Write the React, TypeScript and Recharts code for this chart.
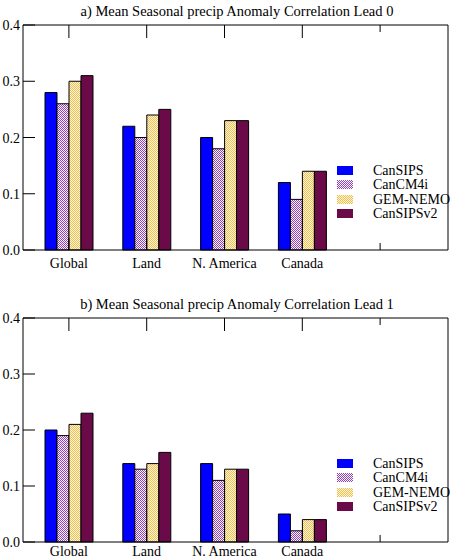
import React from "react";
import { Bar, BarChart, Legend, XAxis, YAxis } from "recharts";

const regions = ["Global", "Land", "N. America", "Canada", ""];
const models = ["CanSIPS", "CanCM4i", "GEM-NEMO", "CanSIPSv2"];
const yTicks = [0, 0.1, 0.2, 0.3, 0.4];

// lead 0, one list per model (Global, Land, N. America, Canada)
const lead0CanSIPS = [0.28, 0.22, 0.2, 0.12];
const lead0CanCM4i = [0.26, 0.2, 0.18, 0.09];
const lead0GemNemo = [0.3, 0.24, 0.23, 0.14];
const lead0CanSIPSv2 = [0.31, 0.25, 0.23, 0.14];

// lead 1
const lead1CanSIPS = [0.2, 0.14, 0.14, 0.05];
const lead1CanCM4i = [0.19, 0.13, 0.11, 0.02];
const lead1GemNemo = [0.21, 0.14, 0.13, 0.04];
const lead1CanSIPSv2 = [0.23, 0.16, 0.13, 0.04];

const FONT = '"Liberation Serif", "Times New Roman", serif';

// [solid colour, checker colour] per model; null checker = solid fill
const looks: [string, string | null][] = [
  ["#0000ff", null],
  ["#ffffff", "#9a3cc0"],
  ["#fff6d8", "#eebf55"],
  ["#6a0a48", null],
];

const legendRowHeights = [14, 15, 14, 14];

function Checker({ id, bg, fg }: { id: string; bg: string; fg: string }) {
  return (
    <pattern id={id} width={2} height={2} patternUnits="userSpaceOnUse">
      <rect width={2} height={2} fill={bg} />
      <rect width={1} height={1} fill={fg} />
      <rect x={1} y={1} width={1} height={1} fill={fg} />
    </pattern>
  );
}

function buildRows(series: number[][]) {
  return regions.map((name, i) => {
    const row: Record<string, string | number | undefined> = { name };
    models.forEach((m, k) => {
      row[m] = i < series[k].length ? series[k][i] : undefined;
    });
    return row;
  });
}

const LeftTick = (props: any) => {
  const { x, y, payload } = props;
  return (
    <g>
      <line x1={x} x2={x + 12} y1={y} y2={y} stroke="#000" />
      <text x={x - 3} y={y} dy={5} textAnchor="end" fontSize={14} fontFamily={FONT} fill="#000">
        {payload.value.toFixed(1)}
      </text>
    </g>
  );
};

const RightTick = (props: any) => {
  const { x, y } = props;
  return <line x1={x} x2={x - 11} y1={y} y2={y} stroke="#000" />;
};

const BottomTick = (props: any) => {
  const { x, y, payload, labelOffset } = props;
  const len = payload.value === "" ? 7 : 12;
  return (
    <g>
      <line x1={x} x2={x} y1={y} y2={y - len} stroke="#000" />
      <text x={x} y={y + labelOffset} textAnchor="middle" fontSize={14} fontFamily={FONT} fill="#000">
        {payload.value}
      </text>
    </g>
  );
};

const TopTick = (props: any) => {
  const { x, y, payload } = props;
  const len = payload.value === "" ? 7 : 13;
  return <line x1={x} x2={x} y1={y} y2={y + len} stroke="#000" />;
};

const LegendBox = ({ id }: { id: string }) => (
  <div style={{ fontFamily: FONT, fontSize: 14, lineHeight: "14px" }}>
    {models.map((m, k) => {
      const [bg, fg] = looks[k];
      const pid = `${id}-leg-${k}`;
      return (
        <div key={m} style={{ display: "flex", alignItems: "flex-start", height: legendRowHeights[k] }}>
          <svg width={16} height={9} style={{ marginRight: 20, marginTop: 3, display: "block", flex: "none" }}>
            {fg && (
              <defs>
                <Checker id={pid} bg={bg} fg={fg} />
              </defs>
            )}
            <rect width={16} height={9} fill={fg ? `url(#${pid})` : bg} />
          </svg>
          <span style={{ lineHeight: "15px" }}>{m}</span>
        </div>
      );
    })}
  </div>
);

function Panel({
  id,
  title,
  series,
  top,
  height,
  marginTop,
  xHeight,
  labelOffset,
}: {
  id: string;
  title: string;
  series: number[][];
  top: number;
  height: number;
  marginTop: number;
  xHeight: number;
  labelOffset: number;
}) {
  const data = buildRows(series);
  const fills = looks.map(([bg, fg], k) => (fg ? `url(#${id}-bar-${k})` : bg));
  return (
    <div style={{ position: "absolute", left: 0, top, width: 451, height }}>
      <div
        style={{
          position: "absolute",
          left: 0,
          width: 474,
          top: marginTop - 22,
          textAlign: "center",
          fontFamily: FONT,
          fontSize: 14.5,
          lineHeight: "16px",
        }}
      >
        {title}
      </div>
      <BarChart
        width={451}
        height={height}
        data={data}
        margin={{ top: marginTop - 1, right: 0, bottom: 0, left: 0 }}
        barSize={12}
        barGap={0}
        barCategoryGap={0}
      >
        <defs>
          {looks.map(([bg, fg], k) =>
            fg ? <Checker key={k} id={`${id}-bar-${k}`} bg={bg} fg={fg} /> : null
          )}
        </defs>
        <XAxis
          dataKey="name"
          height={xHeight}
          padding={{ left: 7, right: 29 }}
          tickSize={0}
          tickMargin={0}
          tick={<BottomTick labelOffset={labelOffset} />}
          interval={0}
          stroke="#000"
        />
        <XAxis
          xAxisId="top"
          orientation="top"
          dataKey="name"
          height={1}
          padding={{ left: 7, right: 29 }}
          tickSize={0}
          tickMargin={0}
          tick={<TopTick />}
          interval={0}
          stroke="#000"
        />
        <YAxis
          width={23}
          domain={[0, 0.4]}
          ticks={yTicks}
          tickSize={0}
          tickMargin={0}
          tick={<LeftTick />}
          stroke="#000"
        />
        <YAxis
          yAxisId="right"
          orientation="right"
          width={3}
          domain={[0, 0.4]}
          ticks={yTicks}
          tickSize={0}
          tickMargin={0}
          tick={<RightTick />}
          stroke="#000"
        />
        <Legend
          content={<LegendBox id={id} />}
          layout="horizontal"
          align="center"
          verticalAlign="middle"
          wrapperStyle={{ left: 337, top: marginTop + 138, width: 114 }}
        />
        {models.map((m, k) => (
          <Bar
            key={m}
            dataKey={m}
            fill={fills[k]}
            stroke="#000"
            strokeWidth={1}
            isAnimationActive={false}
          />
        ))}
      </BarChart>
    </div>
  );
}

export default function App() {
  return (
    <div
      style={{
        position: "absolute",
        left: 0,
        top: 0,
        width: 451,
        height: 560,
        background: "#fff",
        overflow: "hidden",
      }}
    >
      <Panel
        id="a"
        title="a) Mean Seasonal precip Anomaly Correlation Lead 0"
        series={[lead0CanSIPS, lead0CanCM4i, lead0GemNemo, lead0CanSIPSv2]}
        top={0}
        height={280}
        marginTop={25}
        xHeight={30}
        labelOffset={18}
      />
      <Panel
        id="b"
        title="b) Mean Seasonal precip Anomaly Correlation Lead 1"
        series={[lead1CanSIPS, lead1CanCM4i, lead1GemNemo, lead1CanSIPSv2]}
        top={290}
        height={270}
        marginTop={28}
        xHeight={18}
        labelOffset={14}
      />
    </div>
  );
}
